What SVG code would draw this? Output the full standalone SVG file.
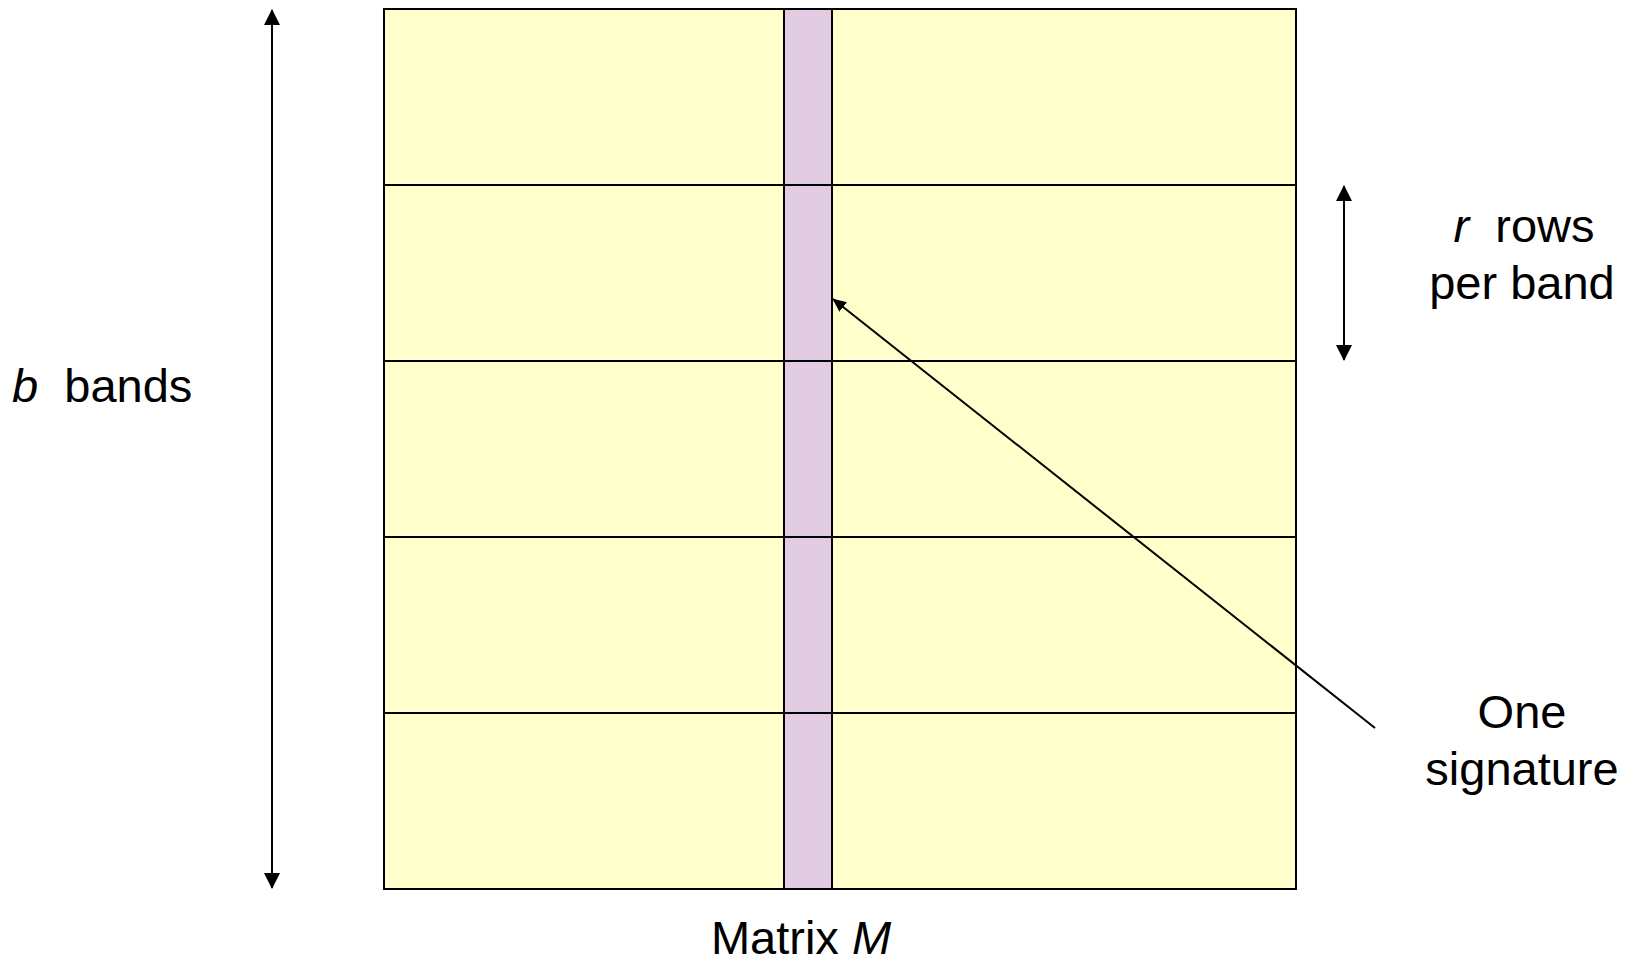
<svg xmlns="http://www.w3.org/2000/svg" width="1637" height="966" viewBox="0 0 1637 966">
<style>
.cell{fill:#FFFFCC;stroke:#000;stroke-width:2}
.sig{fill:#E1CCE4;stroke:#000;stroke-width:2}
.ln{stroke:#000;stroke-width:2;fill:none}
.txt{font-family:"Liberation Sans",Arial,sans-serif;font-size:47px;fill:#000;white-space:pre}
</style>
<defs>
<marker id="ah" markerUnits="userSpaceOnUse" markerWidth="16" markerHeight="16" viewBox="0 0 16 16" refX="15" refY="8" orient="auto-start-reverse">
<path d="M0,0 L16,8 L0,16 Z" fill="#000"/>
</marker>
<marker id="ah2" markerUnits="userSpaceOnUse" markerWidth="14" markerHeight="12" viewBox="0 0 14 12" refX="13" refY="6" orient="auto">
<path d="M0,0 L14,6 L0,12 Z" fill="#000"/>
</marker>
</defs>
<g id="matrix">
<rect class="cell" x="384" y="9" width="912" height="880"/>
<rect class="sig" x="784" y="9" width="48" height="880"/>
<line class="ln" x1="384" y1="185" x2="1296" y2="185"/>
<line class="ln" x1="384" y1="361" x2="1296" y2="361"/>
<line class="ln" x1="384" y1="537" x2="1296" y2="537"/>
<line class="ln" x1="384" y1="713" x2="1296" y2="713"/>
</g>
<g id="connectors">
<line class="ln" x1="272" y1="10" x2="272" y2="888" marker-start="url(#ah)" marker-end="url(#ah)"/>
<line class="ln" x1="1344" y1="186" x2="1344" y2="360" marker-start="url(#ah)" marker-end="url(#ah)"/>
<line class="ln" x1="1375" y1="728" x2="833" y2="299" marker-end="url(#ah2)"/>
</g>
<g id="label-b">
<text class="txt" x="12" y="402" xml:space="preserve"><tspan font-style="italic">b</tspan>  bands</text>
</g>
<g id="label-r">
<text class="txt" x="1524" y="242" text-anchor="middle" xml:space="preserve"><tspan font-style="italic">r</tspan>  rows</text>
<text class="txt" x="1522" y="299" text-anchor="middle">per band</text>
</g>
<g id="label-sig">
<text class="txt" x="1522" y="728" text-anchor="middle">One</text>
<text class="txt" x="1522" y="785" text-anchor="middle">signature</text>
</g>
<g id="label-m">
<text class="txt" x="801" y="954" text-anchor="middle">Matrix <tspan font-style="italic">M</tspan></text>
</g>
</svg>
